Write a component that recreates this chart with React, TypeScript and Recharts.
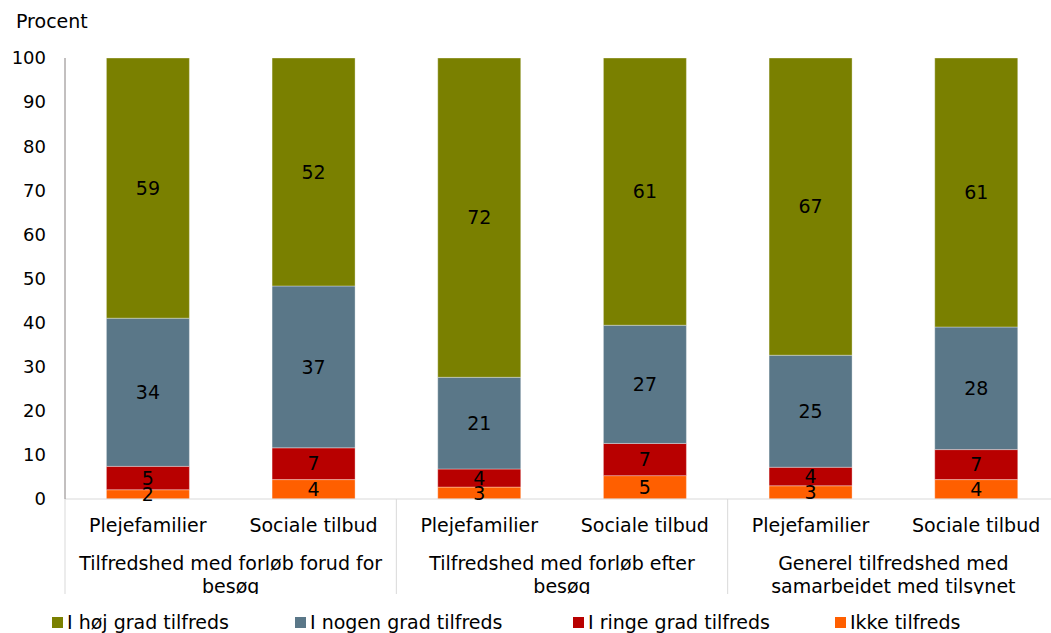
import { Bar, BarChart, LabelList, Legend, XAxis, YAxis } from "recharts";

const categories = ["Plejefamilier", "Sociale tilbud", "Plejefamilier", "Sociale tilbud", "Plejefamilier", "Sociale tilbud"];
const groupLabels = [
  ["Tilfredshed med forløb forud for", "besøg"],
  ["Tilfredshed med forløb efter", "besøg"],
  ["Generel tilfredshed med", "samarbejdet med tilsynet"],
];
const ikke = [2.1, 4.4, 2.7, 5.3, 3.0, 4.4];
const ringe = [5.3, 7.2, 4.1, 7.3, 4.2, 6.8];
const nogen = [33.6, 36.7, 20.8, 26.8, 25.4, 27.8];
const hoj = [59.0, 51.7, 72.4, 60.6, 67.4, 61.0];
const yTicks = [0, 10, 20, 30, 40, 50, 60, 70, 80, 90, 100];

// bottom to top
const series = [
  { key: "ikke", name: "Ikke tilfreds", color: "#ff5f00" },
  { key: "ringe", name: "I ringe grad tilfreds", color: "#b80000" },
  { key: "nogen", name: "I nogen grad tilfreds", color: "#5a7788" },
  { key: "hoj", name: "I høj grad tilfreds", color: "#7a8000" },
];

const data = categories.map((cat, i) => ({
  cat,
  ikke: ikke[i],
  ringe: ringe[i],
  nogen: nogen[i],
  hoj: hoj[i],
}));

const FONT = 'Verdana, "DejaVu Sans", sans-serif';
const FS = 19;
const CHART_W = 1060;
const Y_W = 65;
const RIGHT = 1;
const HALF = (CHART_W - Y_W - RIGHT) / categories.length / 2;
const AXIS_H = 95;
const legendWidths = [243, 278, 262, 200];

const CatTick = (props: any) => {
  const { x, y, payload, index } = props;
  const last = categories.length - 1;
  const lines = groupLabels[Math.floor(index / 2)];
  return (
    <g>
      <text x={x} y={y + 33} textAnchor="middle" fill="#000" fontSize={FS} fontFamily={FONT}>
        {payload.value}
      </text>
      {index % 2 === 0 && (
        <g>
          <defs>
            <clipPath id={`grp-clip-${index}`}>
              <rect x={x - HALF} y={y} width={HALF * 4} height={AXIS_H} />
            </clipPath>
          </defs>
          <line x1={x - HALF} x2={x - HALF} y1={y} y2={y + AXIS_H} stroke="#d9d9d9" />
          <text
            clipPath={`url(#grp-clip-${index})`}
            x={x + HALF}
            y={y + 71}
            textAnchor="middle"
            fill="#000"
            fontSize={FS}
            fontFamily={FONT}
          >
            {lines.map((l, j) => (
              <tspan key={j} x={x + HALF} dy={j === 0 ? 0 : 23}>
                {l}
              </tspan>
            ))}
          </text>
        </g>
      )}
      {index === last && <line x1={x + HALF} x2={x + HALF} y1={y} y2={y + AXIS_H} stroke="#d9d9d9" />}
    </g>
  );
};

const renderLegend = () => (
  <div style={{ display: "flex", fontFamily: FONT, fontSize: FS, lineHeight: "22px", color: "#000" }}>
    {[...series].reverse().map((s, i) => (
      <div key={s.key} style={{ display: "flex", alignItems: "center", whiteSpace: "nowrap", width: legendWidths[i] }}>
        <span style={{ display: "inline-block", width: 11, height: 11, background: s.color, marginRight: 4 }} />
        <span>{s.name}</span>
      </div>
    ))}
  </div>
);

export default function App() {
  return (
    <div style={{ position: "fixed", left: 0, top: 0, width: 1051, height: 633, overflow: "hidden", background: "#fff" }}>
      <BarChart
        width={CHART_W}
        height={633}
        data={data}
        margin={{ top: 58, right: RIGHT, left: 0, bottom: 39 }}
        barCategoryGap="25%"
      >
        <XAxis
          dataKey="cat"
          interval={0}
          height={AXIS_H}
          tickLine={false}
          tickSize={0}
          tickMargin={0}
          axisLine={{ stroke: "#d9d9d9" }}
          tick={<CatTick />}
        />
        <YAxis
          width={Y_W}
          domain={[0, 100]}
          ticks={yTicks}
          interval={0}
          tickLine={false}
          tickSize={6}
          tickMargin={13}
          axisLine={{ stroke: "#868080" }}
          tick={{ fill: "#000", fontSize: 18, fontFamily: FONT }}
          label={{
            value: "Procent",
            content: () => (
              <text x={16} y={28} fill="#000" fontSize={FS} fontFamily={FONT}>
                Procent
              </text>
            ),
          }}
        />
        <Legend
          layout="horizontal"
          verticalAlign="middle"
          align="center"
          content={renderLegend}
          wrapperStyle={{ left: 52, top: 611, width: 1000 }}
        />
        {series.map((s) => (
          <Bar
            key={s.key}
            dataKey={s.key}
            name={s.name}
            stackId="a"
            fill={s.color}
            stroke="#ffffff"
            strokeOpacity={0.45}
            strokeWidth={0.75}
            isAnimationActive={false}
          >
            <LabelList
              dataKey={s.key}
              position="center"
              fill="#000"
              fontSize={FS}
              fontFamily={FONT}
              formatter={(v: any) => Math.round(Number(v))}
            />
          </Bar>
        ))}
      </BarChart>
    </div>
  );
}
